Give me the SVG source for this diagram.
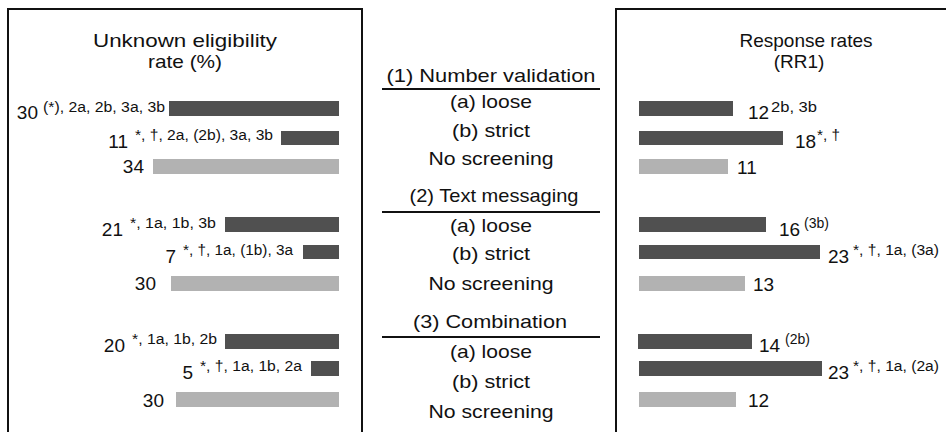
<svg xmlns="http://www.w3.org/2000/svg" width="946" height="432" viewBox="0 0 946 432">
<style>
text{font-family:"Liberation Sans",Arial,sans-serif;fill:#111}
.t{font-size:19px;text-anchor:middle}
.n{font-size:19px}
.e{text-anchor:end}
.s{font-size:14px}
.d{fill:#505050}
.l{fill:#b2b2b2}
.frame{fill:none;stroke:#111;stroke-width:2}
</style>
<rect width="946" height="432" fill="#fff"/>
<g id="frames">
<path class="frame" d="M8,433V9H362V433"/>
<path class="frame" d="M616,433V9H948"/>
</g>
<g id="left-panel">
<text class="t" x="185" y="47" textLength="184" lengthAdjust="spacingAndGlyphs">Unknown eligibility</text>
<text class="t" x="185" y="68" textLength="74" lengthAdjust="spacingAndGlyphs">rate (%)</text>
<g id="l1"><rect class="d" x="169" y="101" width="170" height="15"/><text class="n e" x="38" y="119">30</text><text class="s" x="43" y="112" textLength="122" lengthAdjust="spacingAndGlyphs">(*), 2a, 2b, 3a, 3b</text></g>
<g id="l2"><rect class="d" x="281" y="131" width="58" height="14"/><text class="n e" x="128" y="148">11</text><text class="s" x="135" y="140" textLength="138" lengthAdjust="spacingAndGlyphs">*, †, 2a, (2b), 3a, 3b</text></g>
<g id="l3"><rect class="l" x="153" y="159" width="186" height="15"/><text class="n e" x="144" y="173">34</text></g>
<g id="l4"><rect class="d" x="225" y="217" width="114" height="15"/><text class="n e" x="123" y="236">21</text><text class="s" x="130" y="228" textLength="86" lengthAdjust="spacingAndGlyphs">*, 1a, 1b, 3b</text></g>
<g id="l5"><rect class="d" x="303" y="245" width="36" height="14"/><text class="n e" x="176" y="263">7</text><text class="s" x="183" y="255" textLength="110" lengthAdjust="spacingAndGlyphs">*, †, 1a, (1b), 3a</text></g>
<g id="l6"><rect class="l" x="171" y="276" width="168" height="15"/><text class="n e" x="156" y="290">30</text></g>
<g id="l7"><rect class="d" x="225" y="334" width="114" height="15"/><text class="n e" x="125" y="352">20</text><text class="s" x="132" y="344" textLength="85" lengthAdjust="spacingAndGlyphs">*, 1a, 1b, 2b</text></g>
<g id="l8"><rect class="d" x="311" y="361" width="28" height="15"/><text class="n e" x="193" y="379">5</text><text class="s" x="200" y="371" textLength="102" lengthAdjust="spacingAndGlyphs">*, †, 1a, 1b, 2a</text></g>
<g id="l9"><rect class="l" x="176" y="392" width="163" height="15"/><text class="n e" x="164" y="407">30</text></g>
</g>
<g id="connectors">
<line x1="382" y1="89" x2="600" y2="89" stroke="#111" stroke-width="2"/>
<line x1="382" y1="212" x2="600" y2="212" stroke="#111" stroke-width="2"/>
<line x1="382" y1="337" x2="600" y2="337" stroke="#111" stroke-width="2"/>
</g>
<g id="middle">
<g id="m1">
<text class="t" x="491" y="82" textLength="209" lengthAdjust="spacingAndGlyphs">(1) Number validation</text>
<text class="t" x="491" y="108" textLength="82" lengthAdjust="spacingAndGlyphs">(a) loose</text>
<text class="t" x="491" y="137" textLength="78" lengthAdjust="spacingAndGlyphs">(b) strict</text>
<text class="t" x="491" y="165" textLength="125" lengthAdjust="spacingAndGlyphs">No screening</text>
</g>
<g id="m2">
<text class="t" x="494" y="202" textLength="169" lengthAdjust="spacingAndGlyphs">(2) Text messaging</text>
<text class="t" x="491" y="232" textLength="82" lengthAdjust="spacingAndGlyphs">(a) loose</text>
<text class="t" x="491" y="260" textLength="78" lengthAdjust="spacingAndGlyphs">(b) strict</text>
<text class="t" x="491" y="290" textLength="125" lengthAdjust="spacingAndGlyphs">No screening</text>
</g>
<g id="m3">
<text class="t" x="490" y="328" textLength="154" lengthAdjust="spacingAndGlyphs">(3) Combination</text>
<text class="t" x="491" y="358" textLength="82" lengthAdjust="spacingAndGlyphs">(a) loose</text>
<text class="t" x="491" y="388" textLength="78" lengthAdjust="spacingAndGlyphs">(b) strict</text>
<text class="t" x="491" y="418" textLength="125" lengthAdjust="spacingAndGlyphs">No screening</text>
</g>
</g>
<g id="right-panel">
<text class="t" x="806" y="47">Response rates</text>
<text class="t" x="799" y="68">(RR1)</text>
<g id="r1"><rect class="d" x="639" y="101" width="94" height="15"/><text class="n" x="748" y="119">12</text><text class="s" x="771" y="112" textLength="46" lengthAdjust="spacingAndGlyphs">2b, 3b</text></g>
<g id="r2"><rect class="d" x="639" y="131" width="144" height="14"/><text class="n" x="795" y="148">18</text><text class="s" x="817" y="140" textLength="23" lengthAdjust="spacingAndGlyphs">*, †</text></g>
<g id="r3"><rect class="l" x="639" y="159" width="89" height="15"/><text class="n" x="737" y="174">11</text></g>
<g id="r4"><rect class="d" x="639" y="217" width="127" height="15"/><text class="n" x="779" y="236">16</text><text class="s" x="804" y="228">(3b)</text></g>
<g id="r5"><rect class="d" x="639" y="245" width="181" height="14"/><text class="n" x="828" y="263">23</text><text class="s" x="853" y="255" textLength="86" lengthAdjust="spacingAndGlyphs">*, †, 1a, (3a)</text></g>
<g id="r6"><rect class="l" x="639" y="276" width="106" height="15"/><text class="n" x="753" y="291">13</text></g>
<g id="r7"><rect class="d" x="638" y="334" width="114" height="15"/><text class="n" x="759" y="352">14</text><text class="s" x="785" y="344">(2b)</text></g>
<g id="r8"><rect class="d" x="639" y="361" width="183" height="15"/><text class="n" x="828" y="379">23</text><text class="s" x="853" y="371" textLength="86" lengthAdjust="spacingAndGlyphs">*, †, 1a, (2a)</text></g>
<g id="r9"><rect class="l" x="639" y="392" width="97" height="15"/><text class="n" x="748" y="407">12</text></g>
</g>
</svg>
